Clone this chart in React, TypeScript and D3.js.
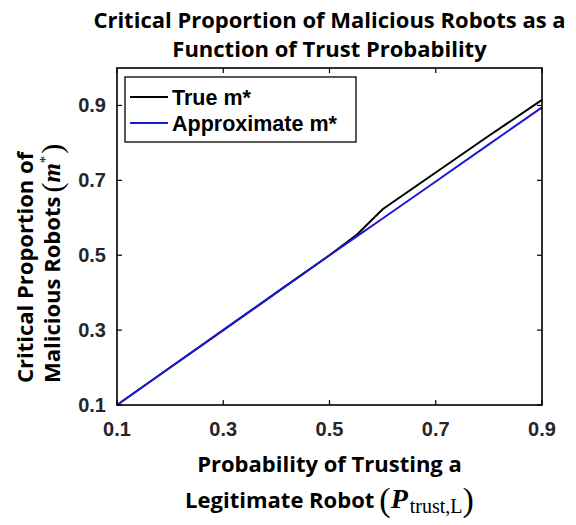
import * as d3 from 'd3';

// data
const pTrust = [0.1, 0.2, 0.3, 0.4, 0.5, 0.55, 0.6, 0.7, 0.8, 0.9];
const trueM = [0.1, 0.2, 0.3, 0.4, 0.5, 0.553, 0.623, 0.721, 0.819, 0.915];
const approxM = [0.1, 0.2, 0.3, 0.4, 0.5, 0.549, 0.598, 0.697, 0.796, 0.895];
const xTicks = [0.1, 0.3, 0.5, 0.7, 0.9];
const yTicks = [0.1, 0.3, 0.5, 0.7, 0.9];
const seriesNames = ['True m*', 'Approximate m*'];
const seriesColors = ['#000000', '#1a1ad6'];

const W = 576;
const H = 525;
const margin = { top: 68, right: 34, bottom: 120, left: 117 };

export default function App() {
  const x = d3.scaleLinear().domain([0.1, 0.9]).range([margin.left, W - margin.right]);
  const y = d3.scaleLinear().domain([0.1, 1.0]).range([H - margin.bottom, margin.top]);
  const line = d3
    .line<number>()
    .x((_, i) => x(pTrust[i]))
    .y((d) => y(d));

  const x0 = x.range()[0];
  const x1 = x.range()[1];
  const y0 = y.range()[0];
  const y1 = y.range()[1];
  const cx = (x0 + x1) / 2;
  const tick = 5;
  const tickFont = "'Liberation Sans', Arial, sans-serif";
  const labelFont = "'Open Sans', Lato, sans-serif";
  const mathFont = "'Liberation Serif', 'DejaVu Serif', serif";

  return (
    <svg width={W} height={H} style={{ position: 'absolute', left: 0, top: 0, background: '#fff' }}>
      {/* title */}
      <g fontFamily={labelFont} fontWeight="bold" fontSize={22} textAnchor="middle" fill="#000">
        <text x={cx} y={28}>Critical Proportion of Malicious Robots as a</text>
        <text x={cx} y={57}>Function of Trust Probability</text>
      </g>

      {/* series */}
      <path d={line(trueM) ?? ''} fill="none" stroke={seriesColors[0]} strokeWidth={2} />
      <path d={line(approxM) ?? ''} fill="none" stroke={seriesColors[1]} strokeWidth={2} />

      {/* box */}
      <rect x={x0} y={y1} width={x1 - x0} height={y0 - y1} fill="none" stroke="#000" strokeWidth={1.6} />

      {/* ticks */}
      <g stroke="#000" strokeWidth={1.2}>
        {xTicks.map((t) => (
          <g key={'xt' + t}>
            <line x1={x(t)} x2={x(t)} y1={y0} y2={y0 - tick} />
            <line x1={x(t)} x2={x(t)} y1={y1} y2={y1 + tick} />
          </g>
        ))}
        {yTicks.map((t) => (
          <g key={'yt' + t}>
            <line x1={x0} x2={x0 + tick} y1={y(t)} y2={y(t)} />
            <line x1={x1} x2={x1 - tick} y1={y(t)} y2={y(t)} />
          </g>
        ))}
      </g>
      <g fontFamily={tickFont} fontWeight="bold" fontSize={20} fill="#262626">
        {xTicks.map((t) => (
          <text key={'xl' + t} x={x(t)} y={y0 + 31} textAnchor="middle">
            {t.toFixed(1)}
          </text>
        ))}
        {yTicks.map((t) => (
          <text key={'yl' + t} x={x0 - 11} y={y(t) + 7} textAnchor="end">
            {t.toFixed(1)}
          </text>
        ))}
      </g>

      {/* legend */}
      <rect x={125} y={77} width={231} height={65} fill="#fff" stroke="#000" strokeWidth={1.3} />
      {seriesNames.map((name, i) => (
        <g key={name} transform={`translate(130, ${97 + i * 26})`}>
          <line x1={0} x2={38} y1={0} y2={0} stroke={seriesColors[i]} strokeWidth={2} />
          <text x={42} y={8} fontFamily={tickFont} fontWeight="bold" fontSize={21.5} fill="#000">
            {name}
          </text>
        </g>
      ))}

      {/* x label */}
      <g fontFamily={labelFont} fontWeight="bold" fontSize={22} textAnchor="middle" fill="#000">
        <text x={cx} y={472}>Probability of Trusting a</text>
        <text x={cx} y={508}>
          Legitimate Robot
          <tspan fontFamily={mathFont} fontWeight="normal" fontSize={34} dx={5} dy={3}>(</tspan>
          <tspan fontFamily={mathFont} fontStyle="italic" fontSize={28} dy={-3}>P</tspan>
          <tspan fontFamily={mathFont} fontWeight="normal" fontSize={20} dx={2} dy={5}>trust,L</tspan>
          <tspan fontFamily={mathFont} fontWeight="normal" fontSize={34} dy={-2}>)</tspan>
        </text>
      </g>

      {/* y label */}
      <g
        transform="translate(0, 383) rotate(-90)"
        fontFamily={labelFont}
        fontWeight="bold"
        fontSize={22}
        textAnchor="start"
        fill="#000"
      >
        <text x={0} y={33}>Critical Proportion of</text>
        <text x={0} y={60}>
          Malicious Robots
          <tspan fontFamily={mathFont} fontWeight="normal" fontSize={30} dx={4} dy={2}>(</tspan>
          <tspan fontFamily={mathFont} fontStyle="italic" fontSize={25} dy={-2}>m</tspan>
          <tspan fontFamily={mathFont} fontWeight="normal" fontSize={15} dy={-10}>*</tspan>
          <tspan fontFamily={mathFont} fontWeight="normal" fontSize={30} dx={2} dy={12}>)</tspan>
        </text>
      </g>
    </svg>
  );
}
